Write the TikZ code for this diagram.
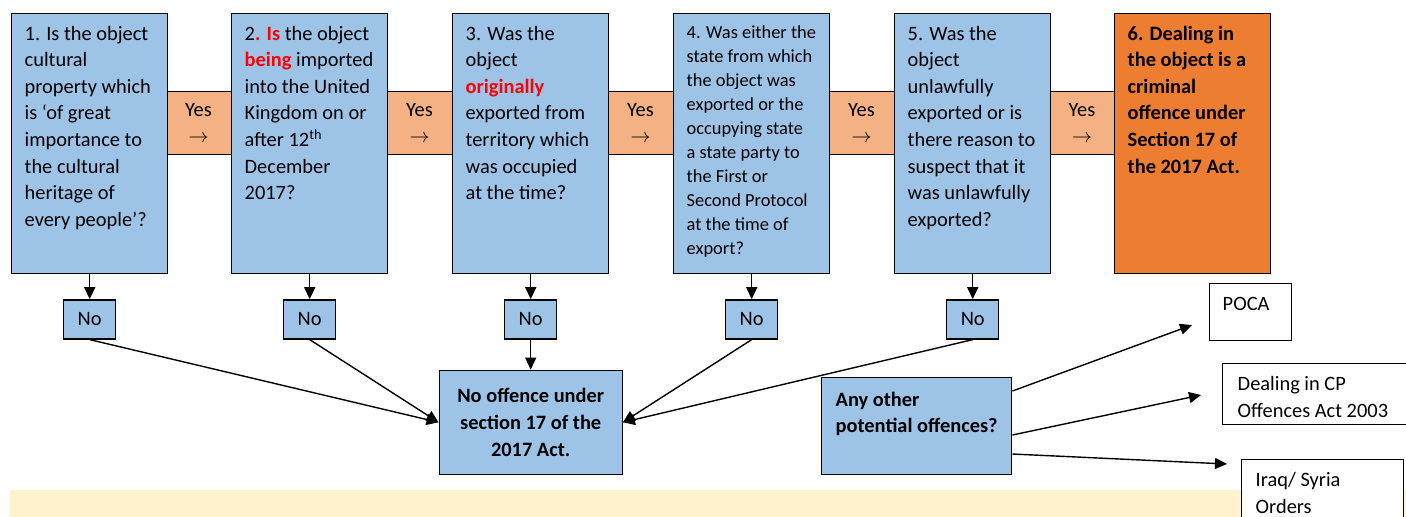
\documentclass[tikz,border=0pt]{standalone}
\usepackage{fontspec}
\setmainfont{Carlito}
\usetikzlibrary{arrows.meta, positioning}
\definecolor{xBlue}{RGB}{157,195,230}
\definecolor{xOrange}{RGB}{237,125,49}
\definecolor{xPeach}{RGB}{244,177,131}
\definecolor{xCream}{RGB}{255,242,204}
\definecolor{xRed}{RGB}{255,0,0}
\newcommand{\qfont}{\fontsize{10.2}{13.3}\selectfont}
\newcommand{\qsmall}{\fontsize{9.2}{12}\selectfont}
\newcommand{\toptext}[3]{\parbox[t][#1][t]{#2}{\begin{tabular}[t]{@{}l@{}}#3\end{tabular}}}
\newcommand{\qtext}[1]{\toptext{122.1pt}{65pt}{#1}}
\newcommand{\redbf}[1]{\textcolor{xRed}{\textbf{#1}}}
\tikzset{
  qbox/.style={draw, line width=0.7pt, fill=xBlue, anchor=north west, inner xsep=6.5pt, inner ysep=3.9pt, font=\qfont},
  actbox/.style={qbox, fill=xOrange, font=\qfont\bfseries},
  yesband/.style={draw, line width=0.7pt, fill=xPeach, minimum width=33pt, minimum height=31.5pt,
                  inner sep=0pt, align=center, font=\qfont},
  nobox/.style={draw, line width=0.7pt, fill=xBlue, minimum width=26pt, minimum height=19.5pt,
                inner sep=0pt, font=\qfont},
  endbox/.style={draw, line width=0.7pt, fill=xBlue, minimum width=91.5pt, minimum height=52pt,
                 inner sep=0pt, align=center, font=\qfont\bfseries},
  otherbox/.style={draw, line width=0.7pt, fill=white, anchor=north west, inner xsep=7pt, inner ysep=4.2pt, font=\qfont},
  flow/.style={-{Triangle[length=6pt, width=5.5pt]}, line width=0.7pt},
}

\begin{document}
\begin{tikzpicture}[x=0.5pt, y=-0.5pt]
    \clip (0,0) rectangle (1406,516);
    \fill[xCream] (10,490) rectangle (1406,540);
    \node[yesband] (y1) at (198.5,123) {Yes\\$\rightarrow$};
    \node[yesband] (y2) at (419.5,123) {Yes\\$\rightarrow$};
    \node[yesband] (y3) at (640.5,123) {Yes\\$\rightarrow$};
    \node[yesband] (y4) at (861.5,123) {Yes\\$\rightarrow$};
    \node[yesband] (y5) at (1082,123)  {Yes\\$\rightarrow$};
    \node[qbox] (q1) at (11,13) {\qtext{1. Is the object\\cultural\\property which\\is ‘of great\\importance to\\the cultural\\heritage of\\every people’?}};
    \node[qbox] (q2) at (231,13) {\qtext{2\redbf{. Is} the object\\\redbf{being} imported\\into the United\\Kingdom on or\\after 12\textsuperscript{th}\\December\\2017?}};
    \node[qbox] (q3) at (452,13) {\qtext{3. Was the\\object\\\redbf{originally}\\exported from\\territory which\\was occupied\\at the time?}};
    \node[qbox, font=\qsmall] (q4) at (673,13) {\qtext{4. Was either the\\state from which\\the object was\\exported or the\\occupying state\\a state party to\\the First or\\Second Protocol\\at the time of\\export?}};
    \node[qbox] (q5) at (894,13) {\qtext{5. Was the\\object\\unlawfully\\exported or is\\there reason to\\suspect that it\\was unlawfully\\exported?}};
    \node[actbox] (q6) at (1114,13) {\qtext{6. Dealing in\\the object is a\\criminal\\offence under\\Section 17 of\\the 2017 Act.}};
    \node[nobox, below=12.5pt of q1] (n1) {No};
    \node[nobox, below=12.5pt of q2] (n2) {No};
    \node[nobox, below=12.5pt of q3] (n3) {No};
    \node[nobox, below=12.5pt of q4] (n4) {No};
    \node[nobox, below=12.5pt of q5] (n5) {No};
    \node[endbox, below=15pt of n3] (none) {No offence under\\section 17 of the\\2017 Act.};
    \node[qbox, inner xsep=7pt, inner ysep=4.9pt, font=\qfont\bfseries] (any) at (821,377)
        {\toptext{38.7pt}{81pt}{Any other\\potential offences?}};
    \node[otherbox, inner xsep=6.5pt] (poca) at (1209,283) {\toptext{20.1pt}{28pt}{POCA}};
    \node[otherbox, inner xsep=7.5pt] (cp) at (1222,363) {\toptext{22.1pt}{77pt}{Dealing in CP\\Offences Act 2003}};
    \node[otherbox, inner ysep=4.2pt] (iraq) at (1241,459) {\toptext{36pt}{67pt}{Iraq/ Syria\\Orders}};
    \coordinate (pocaIn) at (1192,325);
    \coordinate (cpIn) at (1201,395);
    \coordinate (iraqIn) at (1227,464);
    \foreach \i in {1,...,5} \draw[flow] (q\i.south) -- (n\i.north);
    \draw[flow] (n1.south) -- (none.west);
    \draw[flow] (n2.south) -- (none.west);
    \draw[flow] (n3.south) -- (none.north);
    \draw[flow] (n4.south) -- (none.east);
    \draw[flow] (n5.south) -- (none.east);
    \draw[flow] (any.east |- 0,391) -- (pocaIn);
    \draw[flow] (any.east |- 0,435) -- (cpIn);
    \draw[flow] (any.east |- 0,454) -- (iraqIn);
  \end{tikzpicture}
\end{document}
